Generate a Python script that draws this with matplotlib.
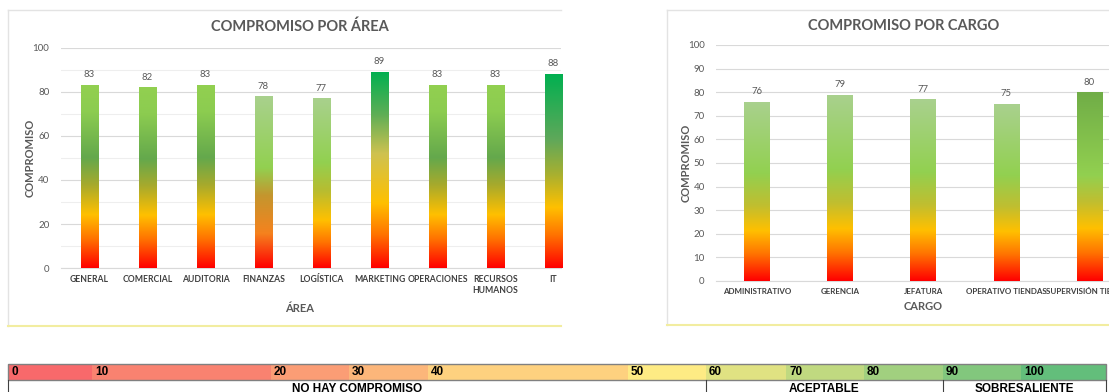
import numpy as np
import matplotlib
matplotlib.use('Agg')
import matplotlib.pyplot as plt
from matplotlib.colors import LinearSegmentedColormap
from matplotlib.lines import Line2D
from matplotlib.patches import Rectangle

# ---- data ----
areas = ['GENERAL', 'COMERCIAL', 'AUDITORIA', 'FINANZAS', 'LOGÍSTICA',
         'MARKETING', 'OPERACIONES', 'RECURSOS\nHUMANOS', 'IT']
area_vals = [83, 82, 83, 78, 77, 89, 83, 83, 88]

cargos = ['ADMINISTRATIVO', 'GERENCIA', 'JEFATURA', 'OPERATIVO TIENDAS',
          'SUPERVISIÓN TIENDAS']
cargo_vals = [76, 79, 77, 75, 80]

scale_vals = [0, 10, 20, 30, 40, 50, 60, 70, 80, 90, 100]
scale_groups = ['NO HAY COMPROMISO', 'ACEPTABLE', 'SOBRESALIENTE']

# ---- styles ----
g_std = [(0, '#ff0000'), (0.16, '#ff7400'), (0.29, '#ffc000'),
         (0.45, '#a8aa2c'), (0.6, '#64a84c'), (0.85, '#8ccc50'), (1, '#92d050')]
g_fin = [(0, '#ff0000'), (0.2, '#f5821e'), (0.42, '#c4962e'),
         (0.58, '#92d050'), (1, '#a9d18e')]
g_log = [(0, '#ff0000'), (0.15, '#ff7400'), (0.28, '#ffc000'),
         (0.45, '#b8bc30'), (0.62, '#92d050'), (1, '#a9d18e')]
g_mkt = [(0, '#ff0000'), (0.17, '#ff7400'), (0.33, '#ffc000'),
         (0.58, '#cfc250'), (0.78, '#5fae56'), (1, '#00b050')]
g_it = [(0, '#ff0000'), (0.17, '#ff7400'), (0.31, '#ffc000'),
        (0.48, '#a8b030'), (0.66, '#5fa85a'), (1, '#00b050')]
area_grads = [g_std, g_std, g_std, g_fin, g_log, g_mkt, g_std, g_std, g_it]

g_cargo = [(0, '#ff0000'), (0.15, '#ff7400'), (0.28, '#ffc000'),
           (0.42, '#c0be30'), (0.6, '#92d050'), (1, '#a9d18e')]
g_sup = [(0, '#ff0000'), (0.15, '#ff7400'), (0.28, '#ffc000'),
         (0.42, '#c0be30'), (0.56, '#92d050'), (1, '#70ad47')]
cargo_grads = [g_cargo, g_cargo, g_cargo, g_cargo, g_sup]

plt.rcParams['font.family'] = ['Lato', 'DejaVu Sans']
GRAY = '#595959'
W, H = 1109, 392


def fx(x):
    return x / W


def fy(y):
    return 1 - y / H


def gradient_bars(ax, bars, grads):
    grad = np.linspace(0, 1, 256).reshape(-1, 1)
    for b, stops in zip(bars, grads):
        cmap = LinearSegmentedColormap.from_list('g', stops)
        x0, w, h = b.get_x(), b.get_width(), b.get_height()
        im = ax.imshow(grad, cmap=cmap, origin='lower', aspect='auto',
                       extent=[x0, x0 + w, 0, h], zorder=3)
        im.set_clip_path(b)


def style_axes(ax, ymax_step, minor, xsize):
    for s in ['top', 'right', 'left']:
        ax.spines[s].set_visible(False)
    ax.spines['bottom'].set_color('#d9d9d9')
    ax.set_ylim(0, 100)
    ax.set_yticks(np.arange(0, 101, ymax_step))
    if minor:
        ax.set_yticks(np.arange(10, 100, 20), minor=True)
        ax.grid(axis='y', which='minor', color='#eeeeee', lw=0.8)
    ax.grid(axis='y', which='major', color='#d9d9d9', lw=0.8)
    ax.set_axisbelow(True)
    ax.tick_params(axis='both', which='both', length=0, colors=GRAY)
    ax.tick_params(axis='y', labelsize=7, pad=8)
    ax.tick_params(axis='x', labelsize=xsize, pad=5)
    for lab in ax.get_xticklabels():
        lab.set_fontweight('bold')
        lab.set_color('#404040')
    ax.set_facecolor('none')


fig = plt.figure(figsize=(W / 100, H / 100), dpi=100)
fig.patch.set_facecolor('white')

# panel borders
for x0, x1, y0, y1 in [(8, 561, 10, 326), (667, 1109, 10, 325)]:
    fig.add_artist(Line2D([fx(x0), fx(x1)], [fy(y0), fy(y0)], color='#e3e3e3', lw=1))
    fig.add_artist(Line2D([fx(x0), fx(x0)], [fy(y0), fy(y1)], color='#e3e3e3', lw=1))
    fig.add_artist(Line2D([fx(x0), fx(x1)], [fy(y1), fy(y1)], color='#f2eda0', lw=1.5))

# ---- left chart ----
ax1 = fig.add_axes([fx(60.5), fy(268.3), fx(561 - 60.5), fy(47.5) - fy(268.3)])
x1 = np.arange(len(areas))
bars1 = ax1.bar(x1, area_vals, width=0.305, color='none', zorder=3)
gradient_bars(ax1, bars1, area_grads)
for xi, v in zip(x1, area_vals):
    ax1.annotate(str(v), (xi, v), xytext=(0, 4), textcoords='offset points',
                 ha='center', va='bottom', fontsize=6.8, color=GRAY, clip_on=True)
ax1.set_xticks(x1)
ax1.set_xticklabels(areas)
style_axes(ax1, 20, True, 6.2)
ax1.set_xlim(-0.5, 8.13)
fig.text(fx(300), fy(27), 'COMPROMISO POR ÁREA', ha='center', va='center',
         fontsize=10.5, fontweight='bold', color=GRAY)
fig.text(fx(300), fy(308), 'ÁREA', ha='center', va='center',
         fontsize=8, fontweight='bold', color=GRAY)
fig.text(fx(30), fy(158), 'COMPROMISO', ha='center', va='center', rotation=90,
         fontsize=8, fontweight='bold', color=GRAY)

# ---- right chart ----
ax2 = fig.add_axes([fx(715.7), fy(281), fx(1109 - 715.7), fy(45) - fy(281)])
x2 = np.arange(len(cargos))
bars2 = ax2.bar(x2, cargo_vals, width=0.31, color='none', zorder=3)
gradient_bars(ax2, bars2, cargo_grads)
for xi, v in zip(x2, cargo_vals):
    ax2.annotate(str(v), (xi, v), xytext=(0, 4), textcoords='offset points',
                 ha='center', va='bottom', fontsize=6.8, color=GRAY)
ax2.set_xticks(x2)
ax2.set_xticklabels(cargos)
style_axes(ax2, 10, False, 5.8)
ax2.set_xlim(-0.5, 4.235)
fig.text(fx(904), fy(26), 'COMPROMISO POR CARGO', ha='center', va='center',
         fontsize=10.5, fontweight='bold', color=GRAY)
fig.text(fx(923), fy(307), 'CARGO', ha='center', va='center',
         fontsize=8, fontweight='bold', color=GRAY)
fig.text(fx(686), fy(163), 'COMPROMISO', ha='center', va='center', rotation=90,
         fontsize=8, fontweight='bold', color=GRAY)

# ---- colour scale table ----
edges = [8, 92, 271, 349, 428, 628, 706, 786, 864, 943, 1021, 1106]
group_edges = [8, 706, 943, 1106]
row_top, row_mid, row_bot = 363.5, 379.5, 400
scale_cmap = LinearSegmentedColormap.from_list('xl', ['#f8696b', '#ffeb84', '#63be7b'])
for i, v in enumerate(scale_vals):
    x0, x1_ = edges[i], edges[i + 1]
    fig.add_artist(Rectangle((fx(x0), fy(row_mid)), fx(x1_ - x0), fy(row_top) - fy(row_mid),
                             facecolor=scale_cmap(v / 100), edgecolor='none'))
    fig.text(fx(x0 + 3), fy((row_top + row_mid) / 2 + 0.5), str(v), ha='left', va='center',
             fontsize=8.5, fontweight='bold', family='Liberation Sans', color='black')
fig.add_artist(Rectangle((fx(8), fy(row_mid)), fx(1106 - 8), fy(row_top) - fy(row_mid),
                         facecolor='none', edgecolor='#808080', lw=1))
fig.add_artist(Line2D([fx(8), fx(8)], [fy(row_mid), fy(row_bot)], color='#404040', lw=0.8))
for i, name in enumerate(scale_groups):
    x0, x1_ = group_edges[i], group_edges[i + 1]
    fig.add_artist(Line2D([fx(x1_), fx(x1_)], [fy(row_mid), fy(row_bot)], color='#404040', lw=0.8))
    fig.text(fx((x0 + x1_) / 2), fy(383), name, ha='center', va='top',
             fontsize=8.5, fontweight='bold', family='Liberation Sans', color='black')

fig.savefig('out.png', dpi=100)
